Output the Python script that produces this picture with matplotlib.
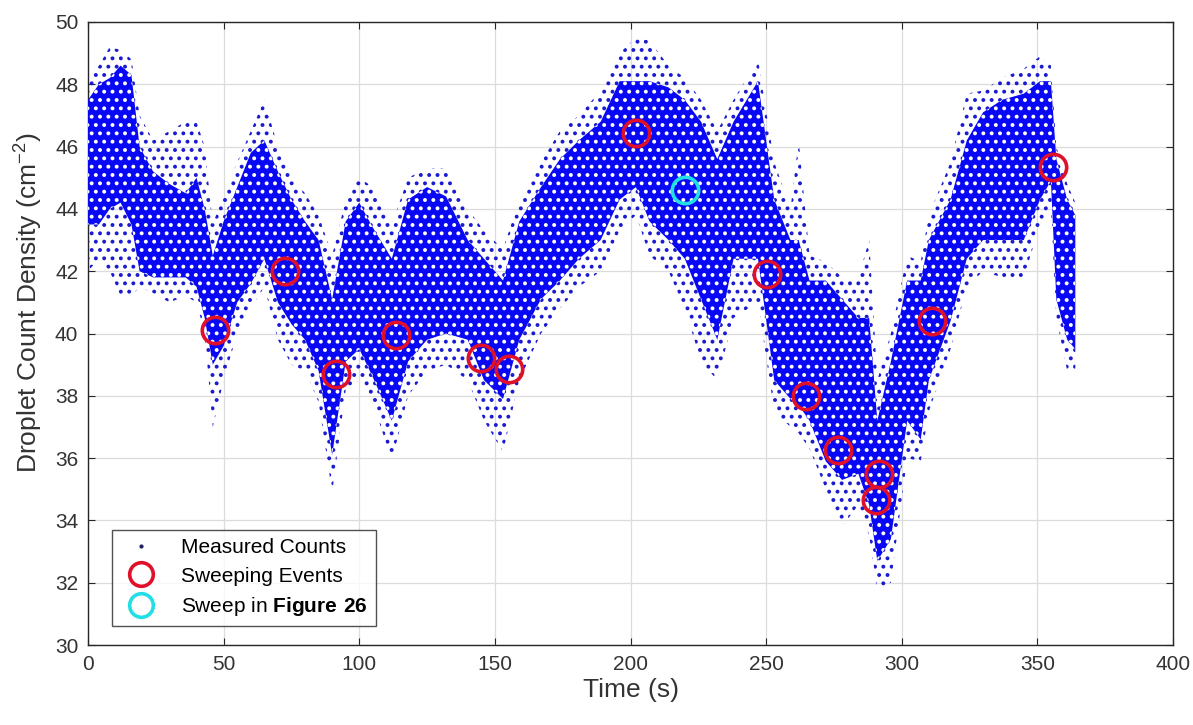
import numpy as np
import matplotlib
matplotlib.use("Agg")
import matplotlib.pyplot as plt
from matplotlib.lines import Line2D

plt.rcParams['font.family'] = ['Liberation Sans', 'DejaVu Sans']
plt.rcParams['mathtext.fontset'] = 'custom'
plt.rcParams['mathtext.rm'] = 'Liberation Sans'
plt.rcParams['mathtext.bf'] = 'Liberation Sans:bold'
plt.rcParams['hatch.linewidth'] = 1.6

# envelope of the measured counts
t_env = [0, 4, 8, 12, 16, 19, 24, 30, 36, 40, 43, 46, 50, 55, 60, 65, 70, 75, 80, 85,
         90, 95, 100, 105, 112, 118, 125, 132, 140, 146, 153, 159, 167, 174, 181, 189,
         196, 202, 207, 214, 220, 226, 232, 238, 247, 253, 259, 262, 266, 272, 278, 284,
         288, 291, 296, 302, 307, 310, 318, 324, 330, 337, 345, 351, 355, 357, 361, 364]
outer_lo = [42.0, 42.4, 42.0, 41.2, 41.2, 41.5, 41.3, 41.0, 41.2, 41.0, 40.0, 37.0, 38.5, 40.0,
            40.8, 41.5, 39.8, 39.0, 38.8, 37.8, 34.9, 38.2, 38.5, 37.8, 35.9, 38.0, 38.8, 39.0,
            38.5, 37.2, 36.2, 38.5, 40.0, 40.8, 41.5, 42.0, 43.3, 43.8, 42.5, 42.0, 40.8, 39.1,
            38.5, 40.5, 41.0, 37.5, 37.0, 36.8, 36.3, 35.0, 33.8, 34.5, 33.5, 31.8, 32.0, 36.0,
            35.9, 37.5, 39.5, 41.5, 42.0, 41.8, 41.8, 43.5, 44.0, 40.5, 38.8, 38.8]
core_lo = [43.5, 43.5, 44.0, 44.2, 43.5, 42.0, 41.8, 41.8, 41.8, 41.5, 40.5, 39.0, 39.6, 41.0,
           41.6, 42.4, 41.0, 40.3, 39.8, 38.8, 36.1, 39.1, 39.5, 38.6, 37.2, 39.1, 39.8, 40.0,
           39.8, 38.5, 37.9, 39.8, 41.1, 41.7, 42.4, 43.0, 44.3, 44.7, 43.6, 43.0, 42.4, 41.1,
           39.8, 42.4, 42.4, 38.5, 37.9, 37.7, 37.2, 35.9, 35.3, 35.5, 34.5, 32.7, 33.4, 37.2,
           36.6, 38.5, 40.4, 42.4, 43.0, 43.0, 43.0, 44.3, 44.9, 41.1, 39.8, 39.5]
core_hi = [47.5, 48.0, 48.2, 48.6, 48.3, 46.0, 45.2, 44.8, 44.5, 45.0, 44.0, 42.5, 43.6, 44.7,
           45.8, 46.2, 45.2, 44.3, 43.6, 43.0, 41.1, 43.6, 44.2, 43.4, 42.4, 44.3, 44.7, 44.4,
           43.0, 42.4, 41.7, 43.6, 44.7, 45.6, 46.2, 46.8, 48.1, 48.1, 48.1, 47.9, 47.5, 46.8,
           45.6, 46.8, 48.1, 44.3, 43.0, 43.0, 41.7, 41.7, 41.1, 40.5, 40.5, 37.2, 39.1, 41.7,
           41.7, 43.0, 44.3, 46.2, 47.1, 47.5, 47.7, 48.1, 48.1, 45.6, 44.3, 43.8]
outer_hi = [48.2, 48.6, 49.2, 49.1, 48.8, 47.0, 46.2, 46.5, 46.8, 46.8, 46.0, 43.5, 44.5, 45.5,
            46.5, 47.5, 46.0, 45.0, 44.5, 43.8, 42.5, 44.3, 45.0, 44.7, 43.5, 45.0, 45.3, 45.3,
            44.0, 43.3, 42.7, 44.3, 45.5, 46.5, 47.0, 47.8, 49.0, 49.5, 49.4, 48.6, 48.2, 47.5,
            46.5, 47.5, 48.8, 45.5, 44.0, 46.2, 42.5, 42.3, 41.8, 41.8, 43.0, 38.5, 40.0, 42.5,
            42.3, 43.8, 45.5, 47.7, 47.8, 48.2, 48.5, 48.9, 48.6, 46.0, 44.8, 44.2]

# sweeping events
sweep_t = [46.8, 72.6, 91.4, 113.5, 144.9, 155.2, 202.0, 250.3, 264.7, 276.5, 291.6, 290.5, 311.2, 355.8]
sweep_y = [40.1, 42.0, 38.7, 39.95, 39.2, 38.85, 46.45, 41.9, 38.0, 36.25, 35.5, 34.65, 40.4, 45.35]
fig26_t = [220.1]
fig26_y = [44.6]

blue = '#0808f5'
red = '#e0102a'
cyan = '#22dfe6'
txt = '#333333'

fig = plt.figure(figsize=(11.93, 7.25), dpi=100)
ax = fig.add_axes([0.0738, 0.1103, 0.9094, 0.8594])

# sparse outer points, dense core
ax.fill_between(t_env, outer_lo, outer_hi, facecolor='none', edgecolor='#1a1ad0',
                hatch='..', linewidth=0, zorder=2)
ax.fill_between(t_env, core_lo, core_hi, facecolor=blue, edgecolor='white',
                hatch='..', linewidth=0, zorder=3)

ax.plot(sweep_t, sweep_y, 'o', ms=19, mfc='none', mec=red, mew=2.6, zorder=5)
ax.plot(fig26_t, fig26_y, 'o', ms=19, mfc='none', mec=cyan, mew=2.6, zorder=5)

ax.set_xlim(0, 400)
ax.set_ylim(30, 50)
ax.set_xticks(np.arange(0, 401, 50))
ax.set_yticks(np.arange(30, 51, 2))
ax.grid(True, color='#dcdcdc', linewidth=0.9)
ax.set_axisbelow(True)
ax.tick_params(direction='in', top=True, right=True, length=5, labelsize=15,
               colors='#262626', labelcolor=txt, pad=7)
for s in ax.spines.values():
    s.set_color('#262626')
    s.set_linewidth(1.0)

ax.set_xlabel('Time (s)', fontsize=19, color=txt, labelpad=3)
ax.set_ylabel('Droplet Count Density (cm$^{-2}$)', fontsize=19, color=txt)
ax.yaxis.set_label_coords(-0.041, 0.55)

handles = [
    Line2D([], [], ls='none', marker='.', ms=4, color='#202060'),
    Line2D([], [], ls='none', marker='o', ms=17, mfc='none', mec=red, mew=2.6),
    Line2D([], [], ls='none', marker='o', ms=17, mfc='none', mec=cyan, mew=2.6),
]
labels = ['Measured Counts', 'Sweeping Events', r'Sweep in $\bf{Figure\ 26}$']
leg = ax.legend(handles, labels, loc='lower left', bbox_to_anchor=(0.022, 0.03),
                fontsize=15, frameon=True, fancybox=False, edgecolor='#262626',
                borderpad=0.4, labelspacing=0.45, handletextpad=0.9, handlelength=2.0,
                borderaxespad=0)
leg.get_frame().set_linewidth(1.0)
leg.set_zorder(10)

fig.savefig('out.png', dpi=100)
